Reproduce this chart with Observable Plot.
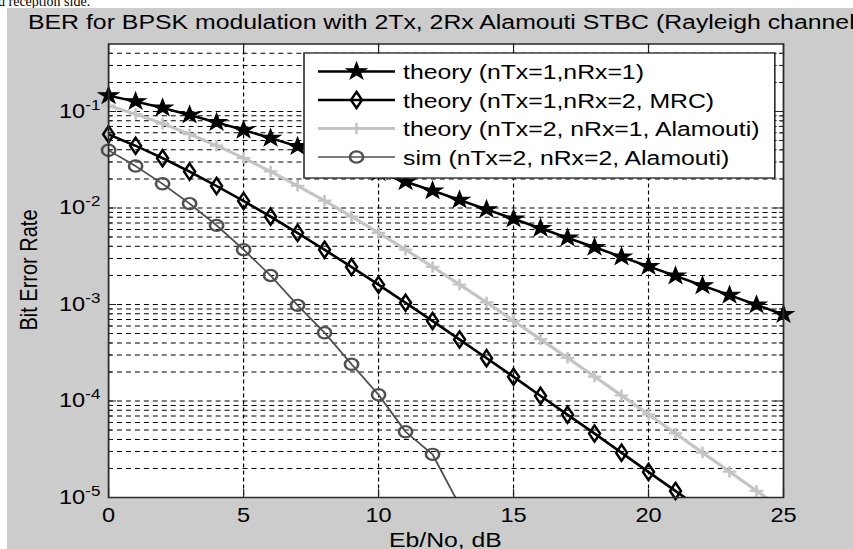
<!DOCTYPE html>
<html><head><meta charset="utf-8">
<script src="https://cdn.jsdelivr.net/npm/d3@7"></script>
<script src="https://cdn.jsdelivr.net/npm/@observablehq/plot@0.6"></script>
<style>
html,body{margin:0;padding:0;background:#fff;width:853px;height:549px;overflow:hidden;position:relative}
#top{position:absolute;left:0;top:0}
#chart{position:absolute;left:7px;top:8px;width:846px;height:541px;overflow:hidden}
</style></head><body>
<svg id="top" width="300" height="8"><text x="-2" y="6" font-family="'Liberation Serif', 'Times New Roman', serif" font-size="14" fill="#000">d reception side.</text></svg>
<div id="chart"></div>
<script>
// ---- data ----
const ebno = [0,1,2,3,4,5,6,7,8,9,10,11,12,13,14,15,16,17,18,19,20,21,22,23,24,25];
const berTheory11 = [0.146,0.127,0.109,0.0919,0.0771,0.0642,0.0530,0.0435,0.0355,0.0288,0.0233,0.0187,0.0151,0.0121,0.00966,0.00772,0.00616,0.00491,0.00392,0.00312,0.00248,0.00198,0.00157,0.00125,0.000992,0.000789];
const berTheoryMRC = [0.0580,0.0441,0.0328,0.0238,0.0169,0.0118,0.00813,0.00551,0.00369,0.00244,0.00160,0.00104,0.000674,0.000434,0.000278,0.000178,0.000113,0.0000721,0.0000460,0.0000291,0.0000184,0.0000117,0.00000739,0.00000468,0.00000295,0.00000186];
const berTheoryAlamouti21 = [0.115,0.0939,0.0748,0.0582,0.0442,0.0329,0.0239,0.0170,0.0119,0.00816,0.00553,0.00370,0.00245,0.00161,0.00105,0.000677,0.000436,0.000280,0.000179,0.000114,0.0000726,0.0000461,0.0000292,0.0000185,0.0000117,0.00000742];
const simEbno = [0,1,2,3,4,5,6,7,8,9,10,11,12,13];
const berSimAlamouti22 = [0.0396,0.0272,0.0178,0.0111,0.0066,0.0037,0.0020,0.00098,0.00051,0.00024,0.000116,0.000048,0.000028,0.0000083];
const seriesNames = ["theory (nTx=1,nRx=1)","theory (nTx=1,nRx=2, MRC)","theory (nTx=2, nRx=1, Alamouti)","sim (nTx=2, nRx=2, Alamouti)"];
const xTicks = [0,5,10,15,20,25];
const xGrid = [5,10,15,20];
const yDecades = [1e-5,1e-4,1e-3,1e-2,1e-1];
const minorMultipliers = [2,3,4,5,6,7,8,9];
const titleText = "BER for BPSK modulation with 2Tx, 2Rx Alamouti STBC (Rayleigh channel)";
const xLabel = "Eb/No, dB";
const yLabel = "Bit Error Rate";

// ---- styles ----
const S = 1.18;               // horizontal stretch of the reference
const W = 846, H = 541, LW = W / S;
const FONT = "'Liberation Sans', Arial, Helvetica, sans-serif";
const styles = [
  {stroke:"#000", sw:2.5, symbol:"star", r:5.4, fill:"#000", mstroke:"#000", msw:1},
  {stroke:"#000", sw:2.5, symbol:"diamond", r:4.9, fill:"none", mstroke:"#000", msw:2.2},
  {stroke:"#c4c4c4", sw:3, symbol:"plus", r:3.8, fill:"none", mstroke:"#c4c4c4", msw:2.2},
  {stroke:"#505050", sw:1.6, symbol:"circle", r:5.6, fill:"none", mstroke:"#505050", msw:2.2}
];
const datasets = [
  ebno.map((x,i)=>({x, y: berTheory11[i]})),
  ebno.map((x,i)=>({x, y: berTheoryMRC[i]})),
  ebno.map((x,i)=>({x, y: berTheoryAlamouti21[i]})),
  simEbno.map((x,i)=>({x, y: berSimAlamouti22[i]}))
];
const yMinor = yDecades.flatMap(d => minorMultipliers.map(m => m*d)).filter(v => v < 0.499);
const yLo = 1e-5, yHi = 0.5;

const seriesMarks = datasets.flatMap((data, i) => {
  const s = styles[i];
  return [
    Plot.line(data, {x:"x", y:"y", stroke:s.stroke, strokeWidth:s.sw, clip:true}),
    Plot.dot(data, {x:"x", y:"y", filter: d => d.y >= yLo, symbol:s.symbol, r:s.r, fill:s.fill, stroke:s.mstroke, strokeWidth:s.msw})
  ];
});

const chart = Plot.plot({
  width: LW, height: H,
  marginLeft: 85.6, marginRight: 59.4, marginTop: 35.5, marginBottom: 52,
  style: {fontFamily: FONT, fontSize: "20px", background: "#cccccc", color: "#000"},
  x: {domain: [0, 25], ticks: xTicks, tickSize: 0, tickPadding: 10, label: null},
  y: {type: "log", domain: [yLo, yHi], ticks: yDecades, tickSize: 0, tickPadding: 7,
      tickFormat: d => "10^" + Math.round(Math.log10(d)), label: null},
  marks: [
    Plot.frame({fill: "white", stroke: null}),
    Plot.ruleY(yDecades.concat(yMinor), {stroke: "#000", strokeWidth: 1, strokeDasharray: "4.2,3.4"}),
    Plot.ruleX(xGrid, {stroke: "#000", strokeWidth: 1, strokeDasharray: "4,3"}),
    // inward tick marks
    Plot.ruleY(yDecades, {x1: 0, x2: 0.3, stroke: "#222"}),
    Plot.ruleY(yDecades, {x1: 24.7, x2: 25, stroke: "#222"}),
    Plot.ruleY(yMinor, {x1: 0, x2: 0.15, stroke: "#222"}),
    Plot.ruleY(yMinor, {x1: 24.85, x2: 25, stroke: "#222"}),
    Plot.ruleX(xTicks, {y1: yLo, y2: yLo * 1.21, stroke: "#222"}),
    Plot.ruleX(xTicks, {y1: yHi, y2: yHi / 1.21, stroke: "#222"}),
    ...seriesMarks,
    Plot.frame({stroke: "#2a2a2a", strokeWidth: 1.5})
  ]
});

// stretch horizontally like the reference
chart.setAttribute("viewBox", `0 0 ${LW} ${H}`);
chart.setAttribute("width", W);
chart.setAttribute("height", H);
chart.setAttribute("preserveAspectRatio", "none");
chart.style.width = W + "px";
chart.style.height = H + "px";
chart.style.maxWidth = "none";
chart.style.overflow = "hidden";

const svg = d3.select(chart);
// superscript exponents on y tick labels
svg.selectAll("text").each(function() {
  const t = this.textContent;
  const m = /^10\^(-?\d+)$/.exec(t);
  if (!m) return;
  const el = d3.select(this);
  el.text(null);
  el.append("tspan").text("10");
  el.append("tspan").attr("dy", "-0.55em").attr("font-size", "0.72em").text(m[1]);
});

// title
svg.append("text").attr("x", 17.8).attr("y", 21).attr("text-anchor", "start").attr("font-family", FONT).attr("font-size", 21)
  .attr("fill", "#000").attr("textLength", 707.6).attr("lengthAdjust", "spacingAndGlyphs").text(titleText);
// axis labels
svg.append("text").attr("x", (85.6 + LW - 59.4) / 2).attr("y", 539.5).attr("text-anchor", "middle")
  .attr("font-family", FONT).attr("font-size", 21).attr("fill", "#000").text(xLabel);
svg.append("text").attr("transform", `translate(18.5,262) rotate(-90)`).attr("text-anchor", "middle")
  .attr("font-family", FONT).attr("font-size", 20).attr("fill", "#000").attr("dy", "0.35em").text(yLabel);

// legend
const lg = svg.append("g").attr("text-anchor", "start");
lg.append("rect").attr("x", 251.7).attr("y", 45).attr("width", 399).attr("height", 125)
  .attr("fill", "white").attr("stroke", "#222").attr("stroke-width", 1.3);
const symMap = {star: d3.symbolStar, diamond: d3.symbolDiamond, plus: d3.symbolPlus, circle: d3.symbolCircle};
seriesNames.forEach((name, i) => {
  const s = styles[i];
  const y = 63.5 + i * 28.5;
  lg.append("line").attr("x1", 263.6).attr("x2", 328.8).attr("y1", y).attr("y2", y)
    .attr("stroke", s.stroke).attr("stroke-width", s.sw);
  lg.append("path").attr("transform", `translate(296.2,${y})`)
    .attr("d", d3.symbol(symMap[s.symbol], Math.PI * s.r * s.r)())
    .attr("fill", s.fill).attr("stroke", s.mstroke).attr("stroke-width", s.msw);
  lg.append("text").attr("x", 335.6).attr("y", y).attr("dy", "0.36em").attr("text-anchor", "start").attr("font-family", FONT)
    .attr("font-size", 21).attr("fill", "#000").text(name);
});

document.getElementById("chart").appendChild(chart);
</script>
</body></html>
